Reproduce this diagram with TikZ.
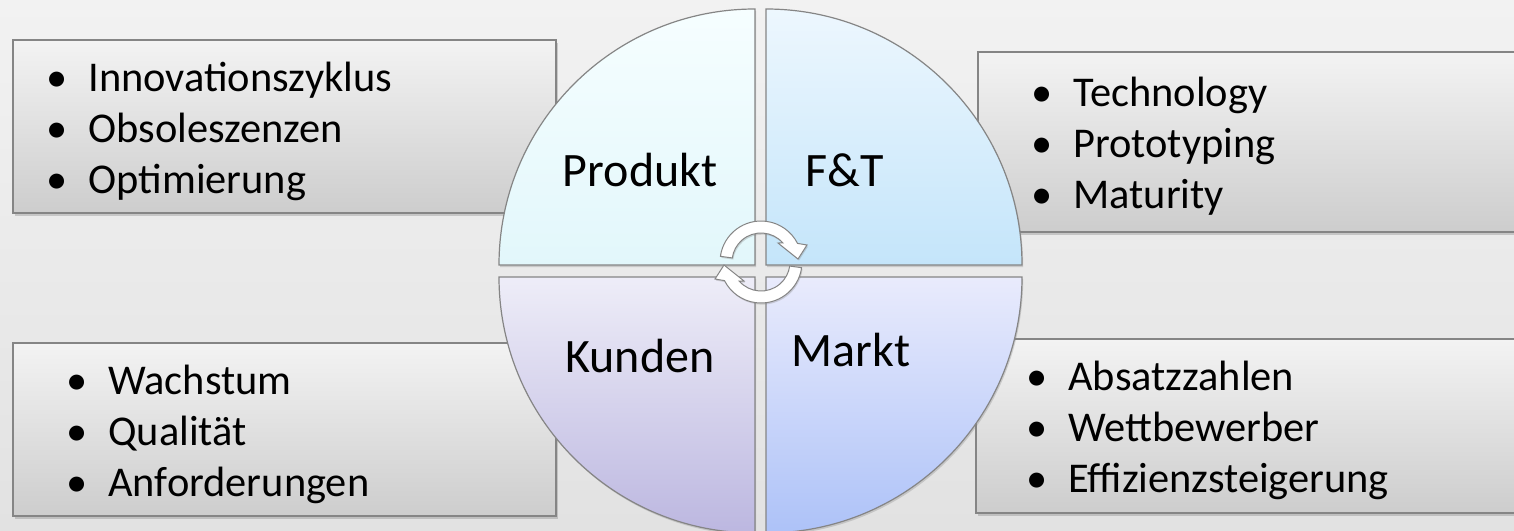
\documentclass[tikz,border=0pt]{standalone}
\usepackage{fontspec}
\setmainfont{Carlito}
\usetikzlibrary{calc,shadows}

\definecolor{hgoben}{HTML}{F2F2F2}
\definecolor{hgunten}{HTML}{E2E2E2}
\definecolor{kastenoben}{HTML}{F3F3F3}
\definecolor{kastenunten}{HTML}{CDCDCD}
\definecolor{rand}{HTML}{858585}
\definecolor{prodoben}{HTML}{F6FEFF}
\definecolor{produnten}{HTML}{E2F7FB}
\definecolor{ftoben}{HTML}{EDF7FE}
\definecolor{ftunten}{HTML}{C4E5FA}
\definecolor{kundoben}{HTML}{EEEDF8}
\definecolor{kundunten}{HTML}{BCB7E0}
\definecolor{marktoben}{HTML}{E9EBFC}
\definecolor{marktunten}{HTML}{ADC2F8}

\tikzset{
  kasten/.style={draw=rand, line width=0.6pt, top color=kastenoben, bottom color=kastenunten,
    drop shadow={shadow xshift=0.8pt, shadow yshift=-1.4pt, opacity=0.35}},
  viertel/.style={draw=rand, line width=0.6pt,
    drop shadow={shadow xshift=0.6pt, shadow yshift=-1pt, opacity=0.3}},
  liste/.style={anchor=west, align=left, inner sep=0pt, font=\fontsize{21.2}{25.5}\selectfont},
  titel/.style={inner sep=0pt, font=\fontsize{24}{28}\selectfont},
  pfeil/.style={fill=white, draw=rand, line width=0.5pt,
    drop shadow={shadow xshift=0.5pt, shadow yshift=-0.8pt, opacity=0.3}}
}
\newcommand{\punkt}[1]{\makebox[15.5pt][l]{\makebox[0pt]{•}}#1\strut}

\begin{document}
\begin{tikzpicture}[x=0.5pt,y=-0.5pt]
    \useasboundingbox (0,0) rectangle (1514,530);
    \clip (0,0) rectangle (1514,530);
    \fill[top color=hgoben, bottom color=hgunten] (0,0) rectangle (1514,530);

    % Kästen
    \path[kasten] (13,40) rectangle (556,213);
    \path[kasten] (978,52) rectangle (1530,232);
    \path[kasten] (13,343) rectangle (556,516);
    \path[kasten] (976,339) rectangle (1530,513);

    % Viertelkreise
    \coordinate (M1) at (755,265);
    \coordinate (M2) at (766,265);
    \coordinate (M3) at (755,277);
    \coordinate (M4) at (766,277);
    \path[viertel, top color=prodoben, bottom color=produnten]
        (M1) -- ++(-128pt,0) arc[start angle=180, end angle=90, radius=128pt] -- cycle;
    \path[viertel, top color=ftoben, bottom color=ftunten]
        (M2) -- ++(0,128pt) arc[start angle=90, end angle=0, radius=128pt] -- cycle;
    \path[viertel, top color=kundoben, bottom color=kundunten]
        (M3) -- ++(-128pt,0) arc[start angle=180, end angle=270, radius=128pt] -- cycle;
    \path[viertel, top color=marktoben, bottom color=marktunten]
        (M4) -- ++(128pt,0) arc[start angle=0, end angle=-90, radius=128pt] -- cycle;

    % Kreislauf-Pfeile
    \coordinate (K) at (760.5,271);
    \coordinate (P) at (761,262);
    \foreach \w in {0,180} {
      \path[pfeil, rotate around={\w:(K)}]
          ($(P)+(172:20.5pt)$) arc[start angle=172, end angle=27, radius=20.5pt]
          -- ($(P)+(46,-17)$) -- ($(P)+(37,-3)$) -- ($(P)+(17,-19)$)
          -- ($(P)+(41:14.5pt)$) arc[start angle=41, end angle=172, radius=14.5pt] -- cycle;
    }

    % Beschriftung
    \node[titel] (produkt) at (640,170) {Produkt};
    \node[titel] (ft) at (845,170) {F\&T};
    \node[titel] (kunden) at (640,356) {Kunden};
    \node[titel] (markt) at (851,350) {Markt};

    % Listen
    \node[liste] (liste1) at (57,132) {\punkt{Innovationszyklus}\\ \punkt{Obsoleszenzen}\\ \punkt{Optimierung}};
    \node[liste] (liste2) at (1042,147) {\punkt{Technology}\\ \punkt{Prototyping}\\ \punkt{Maturity}};
    \node[liste] (liste3) at (77,435) {\punkt{Wachstum}\\ \punkt{Qualität}\\ \punkt{Anforderungen}};
    \node[liste] (liste4) at (1037,431) {\punkt{Absatzzahlen}\\ \punkt{Wettbewerber}\\ \punkt{Effizienzsteigerung}};
\end{tikzpicture}
\end{document}
